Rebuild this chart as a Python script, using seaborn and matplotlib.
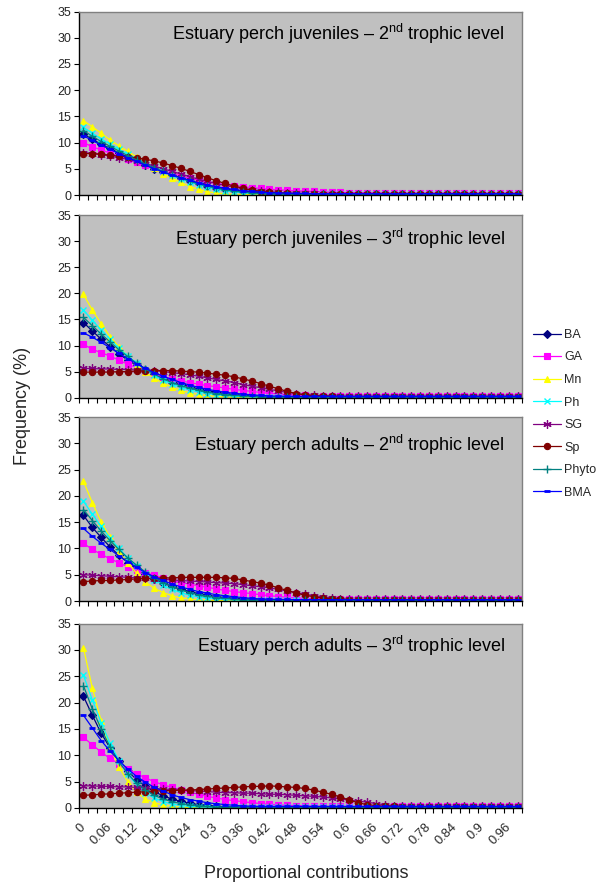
import matplotlib
matplotlib.use("Agg")
import matplotlib.pyplot as plt
from matplotlib.ticker import MultipleLocator, FixedLocator
import pandas as pd
import seaborn as sns

# Proportional contribution classes (x categories)
proportions = [
    0.00, 0.02, 0.04, 0.06, 0.08, 0.10, 0.12, 0.14, 0.16, 0.18,
    0.20, 0.22, 0.24, 0.26, 0.28, 0.30, 0.32, 0.34, 0.36, 0.38,
    0.40, 0.42, 0.44, 0.46, 0.48, 0.50, 0.52, 0.54, 0.56, 0.58,
    0.60, 0.62, 0.64, 0.66, 0.68, 0.70, 0.72, 0.74, 0.76, 0.78,
    0.80, 0.82, 0.84, 0.86, 0.88, 0.90, 0.92, 0.94, 0.96, 0.98,
]
tick_values = [0.00, 0.06, 0.12, 0.18, 0.24, 0.30, 0.36, 0.42, 0.48,
               0.54, 0.60, 0.66, 0.72, 0.78, 0.84, 0.90, 0.96]
tick_labels = ["0", "0.06", "0.12", "0.18", "0.24", "0.3", "0.36", "0.42", "0.48",
               "0.54", "0.6", "0.66", "0.72", "0.78", "0.84", "0.9", "0.96"]

sources = ["BA", "GA", "Mn", "Ph", "SG", "Sp", "Phyto", "BMA"]

# Frequency (%) of each source's proportional contribution
juveniles_2nd = {
    "BA": [11.7, 10.6, 9.7, 8.9, 8.0, 7.2, 6.4, 5.7, 5.0, 4.4,
           3.8, 3.2, 2.7, 2.2, 1.8, 1.4, 1.1, 0.9, 0.7, 0.55,
           0.45, 0.35, 0.3, 0.25, 0.25, 0.2, 0.2, 0.2, 0.2, 0.2,
           0.2, 0.2, 0.2, 0.2, 0.2, 0.2, 0.2, 0.2, 0.2, 0.2,
           0.2, 0.2, 0.2, 0.2, 0.2, 0.2, 0.2, 0.2, 0.2, 0.2],
    "GA": [10.0, 9.2, 8.6, 8.0, 7.4, 6.8, 6.2, 5.7, 5.1, 4.6,
           4.1, 3.6, 3.2, 2.8, 2.5, 2.2, 2.0, 1.8, 1.6, 1.4,
           1.25, 1.1, 1.0, 0.9, 0.8, 0.75, 0.7, 0.6, 0.55, 0.5,
           0.45, 0.4, 0.4, 0.35, 0.35, 0.3, 0.3, 0.3, 0.3, 0.3,
           0.3, 0.3, 0.3, 0.3, 0.3, 0.3, 0.3, 0.3, 0.3, 0.3],
    "Mn": [14.2, 13.0, 11.8, 10.5, 9.4, 8.3, 7.3, 6.2, 5.1, 4.1,
           3.2, 2.4, 1.6, 1.1, 0.6, 0.4, 0.2, 0.1, 0.1, 0.05,
           0.05, 0.05, 0.05, 0.05, 0.05, 0.05, 0.05, 0.05, 0.05, 0.05,
           0.05, 0.05, 0.05, 0.05, 0.05, 0.05, 0.05, 0.05, 0.05, 0.05,
           0.05, 0.05, 0.05, 0.05, 0.05, 0.05, 0.05, 0.05, 0.05, 0.05],
    "Ph": [12.9, 11.8, 10.7, 9.7, 8.7, 7.8, 6.9, 6.1, 5.3, 4.5,
           3.8, 3.1, 2.5, 2.0, 1.5, 1.1, 0.8, 0.6, 0.4, 0.3,
           0.2, 0.15, 0.15, 0.1, 0.1, 0.1, 0.1, 0.1, 0.1, 0.1,
           0.1, 0.1, 0.1, 0.1, 0.1, 0.1, 0.1, 0.1, 0.1, 0.1,
           0.1, 0.1, 0.1, 0.1, 0.1, 0.1, 0.1, 0.1, 0.1, 0.1],
    "SG": [8.1, 7.9, 7.7, 7.4, 7.1, 6.8, 6.4, 6.0, 5.5, 5.0,
           4.5, 4.0, 3.5, 3.0, 2.6, 2.2, 1.8, 1.5, 1.2, 1.0,
           0.8, 0.65, 0.5, 0.4, 0.35, 0.3, 0.3, 0.25, 0.25, 0.25,
           0.25, 0.25, 0.25, 0.25, 0.25, 0.25, 0.25, 0.25, 0.25, 0.25,
           0.25, 0.25, 0.25, 0.25, 0.25, 0.25, 0.25, 0.25, 0.25, 0.25],
    "Sp": [7.9, 7.9, 7.8, 7.6, 7.4, 7.3, 7.1, 6.8, 6.5, 6.1,
           5.6, 5.1, 4.5, 3.9, 3.3, 2.7, 2.2, 1.7, 1.3, 0.9,
           0.65, 0.5, 0.4, 0.3, 0.25, 0.2, 0.2, 0.2, 0.2, 0.2,
           0.2, 0.2, 0.2, 0.2, 0.2, 0.2, 0.2, 0.2, 0.2, 0.2,
           0.2, 0.2, 0.2, 0.2, 0.2, 0.2, 0.2, 0.2, 0.2, 0.2],
    "Phyto": [12.3, 11.2, 10.2, 9.3, 8.4, 7.5, 6.7, 5.9, 5.2, 4.5,
              3.8, 3.2, 2.6, 2.1, 1.7, 1.3, 1.0, 0.75, 0.55, 0.4,
              0.3, 0.25, 0.2, 0.2, 0.15, 0.15, 0.15, 0.15, 0.15, 0.15,
              0.15, 0.15, 0.15, 0.15, 0.15, 0.15, 0.15, 0.15, 0.15, 0.15,
              0.15, 0.15, 0.15, 0.15, 0.15, 0.15, 0.15, 0.15, 0.15, 0.15],
    "BMA": [11.3, 10.4, 9.5, 8.7, 7.9, 7.1, 6.4, 5.7, 5.0, 4.4,
            3.8, 3.3, 2.8, 2.3, 1.9, 1.6, 1.3, 1.05, 0.85, 0.7,
            0.55, 0.45, 0.4, 0.35, 0.3, 0.3, 0.25, 0.25, 0.25, 0.25,
            0.25, 0.25, 0.25, 0.25, 0.25, 0.25, 0.25, 0.25, 0.25, 0.25,
            0.25, 0.25, 0.25, 0.25, 0.25, 0.25, 0.25, 0.25, 0.25, 0.25],
}

juveniles_3rd = {
    "BA": [14.4, 12.8, 11.2, 9.8, 8.4, 7.2, 6.2, 5.3, 4.5, 3.8,
           3.1, 2.6, 2.1, 1.7, 1.35, 1.05, 0.8, 0.6, 0.45, 0.35,
           0.25, 0.2, 0.2, 0.2, 0.2, 0.2, 0.2, 0.2, 0.2, 0.2,
           0.2, 0.2, 0.2, 0.2, 0.2, 0.2, 0.2, 0.2, 0.2, 0.2,
           0.2, 0.2, 0.2, 0.2, 0.2, 0.2, 0.2, 0.2, 0.2, 0.2],
    "GA": [10.2, 9.3, 8.6, 8.0, 7.2, 6.4, 5.8, 5.2, 4.5, 4.0,
           3.6, 3.2, 2.9, 2.6, 2.3, 2.1, 1.85, 1.6, 1.4, 1.2,
           1.0, 0.85, 0.7, 0.6, 0.5, 0.45, 0.4, 0.35, 0.35, 0.3,
           0.3, 0.3, 0.3, 0.3, 0.3, 0.3, 0.3, 0.3, 0.3, 0.3,
           0.3, 0.3, 0.3, 0.3, 0.3, 0.3, 0.3, 0.3, 0.3, 0.3],
    "Mn": [19.8, 16.8, 14.2, 11.7, 9.8, 7.9, 6.3, 4.9, 3.7, 2.8,
           2.0, 1.4, 0.9, 0.6, 0.4, 0.25, 0.15, 0.1, 0.1, 0.05,
           0.05, 0.05, 0.05, 0.05, 0.05, 0.05, 0.05, 0.05, 0.05, 0.05,
           0.05, 0.05, 0.05, 0.05, 0.05, 0.05, 0.05, 0.05, 0.05, 0.05,
           0.05, 0.05, 0.05, 0.05, 0.05, 0.05, 0.05, 0.05, 0.05, 0.05],
    "Ph": [16.8, 14.8, 13.0, 11.2, 9.5, 8.0, 6.6, 5.4, 4.3, 3.4,
           2.6, 2.0, 1.5, 1.1, 0.8, 0.55, 0.4, 0.3, 0.2, 0.15,
           0.1, 0.1, 0.1, 0.1, 0.1, 0.1, 0.1, 0.1, 0.1, 0.1,
           0.1, 0.1, 0.1, 0.1, 0.1, 0.1, 0.1, 0.1, 0.1, 0.1,
           0.1, 0.1, 0.1, 0.1, 0.1, 0.1, 0.1, 0.1, 0.1, 0.1],
    "SG": [5.6, 5.6, 5.5, 5.5, 5.4, 5.4, 5.3, 5.3, 5.2, 5.0,
           4.8, 4.6, 4.4, 4.1, 3.8, 3.5, 3.2, 2.9, 2.5, 2.2,
           1.9, 1.6, 1.3, 1.0, 0.8, 0.6, 0.5, 0.4, 0.35, 0.3,
           0.3, 0.3, 0.3, 0.3, 0.3, 0.3, 0.3, 0.3, 0.3, 0.3,
           0.3, 0.3, 0.3, 0.3, 0.3, 0.3, 0.3, 0.3, 0.3, 0.3],
    "Sp": [4.9, 4.9, 4.9, 4.9, 5.0, 5.0, 5.1, 5.1, 5.2, 5.2,
           5.2, 5.1, 5.0, 4.9, 4.7, 4.5, 4.3, 4.0, 3.6, 3.2,
           2.7, 2.2, 1.7, 1.2, 0.8, 0.55, 0.4, 0.3, 0.25, 0.2,
           0.2, 0.2, 0.2, 0.2, 0.2, 0.2, 0.2, 0.2, 0.2, 0.2,
           0.2, 0.2, 0.2, 0.2, 0.2, 0.2, 0.2, 0.2, 0.2, 0.2],
    "Phyto": [15.4, 13.8, 12.2, 10.7, 9.2, 7.9, 6.6, 5.5, 4.5, 3.6,
              2.9, 2.3, 1.8, 1.4, 1.05, 0.8, 0.6, 0.45, 0.35, 0.25,
              0.2, 0.15, 0.15, 0.15, 0.15, 0.15, 0.15, 0.15, 0.15, 0.15,
              0.15, 0.15, 0.15, 0.15, 0.15, 0.15, 0.15, 0.15, 0.15, 0.15,
              0.15, 0.15, 0.15, 0.15, 0.15, 0.15, 0.15, 0.15, 0.15, 0.15],
    "BMA": [12.4, 11.6, 10.6, 9.6, 8.5, 7.5, 6.5, 5.6, 4.8, 4.1,
            3.5, 2.9, 2.4, 2.0, 1.6, 1.3, 1.05, 0.85, 0.7, 0.55,
            0.45, 0.35, 0.3, 0.3, 0.25, 0.25, 0.25, 0.25, 0.25, 0.25,
            0.25, 0.25, 0.25, 0.25, 0.25, 0.25, 0.25, 0.25, 0.25, 0.25,
            0.25, 0.25, 0.25, 0.25, 0.25, 0.25, 0.25, 0.25, 0.25, 0.25],
}

adults_2nd = {
    "BA": [16.3, 14.0, 12.1, 10.3, 8.7, 7.3, 6.1, 5.1, 4.2, 3.4,
           2.8, 2.2, 1.8, 1.4, 1.1, 0.85, 0.65, 0.5, 0.4, 0.3,
           0.25, 0.2, 0.2, 0.2, 0.2, 0.2, 0.2, 0.2, 0.2, 0.2,
           0.2, 0.2, 0.2, 0.2, 0.2, 0.2, 0.2, 0.2, 0.2, 0.2,
           0.2, 0.2, 0.2, 0.2, 0.2, 0.2, 0.2, 0.2, 0.2, 0.2],
    "GA": [11.0, 9.8, 8.9, 8.0, 7.3, 6.5, 5.9, 5.4, 4.9, 4.4,
           3.9, 3.5, 3.2, 2.9, 2.6, 2.3, 2.0, 1.8, 1.6, 1.4,
           1.2, 1.0, 0.85, 0.7, 0.6, 0.5, 0.45, 0.4, 0.35, 0.35,
           0.3, 0.3, 0.3, 0.3, 0.3, 0.3, 0.3, 0.3, 0.3, 0.3,
           0.3, 0.3, 0.3, 0.3, 0.3, 0.3, 0.3, 0.3, 0.3, 0.3],
    "Mn": [22.8, 18.7, 15.1, 12.1, 9.4, 7.2, 5.3, 3.6, 2.4, 1.6,
           1.0, 0.6, 0.4, 0.25, 0.15, 0.1, 0.05, 0.05, 0.05, 0.05,
           0.05, 0.05, 0.05, 0.05, 0.05, 0.05, 0.05, 0.05, 0.05, 0.05,
           0.05, 0.05, 0.05, 0.05, 0.05, 0.05, 0.05, 0.05, 0.05, 0.05,
           0.05, 0.05, 0.05, 0.05, 0.05, 0.05, 0.05, 0.05, 0.05, 0.05],
    "Ph": [19.0, 16.5, 14.2, 12.0, 10.0, 8.2, 6.6, 5.2, 4.0, 3.0,
           2.2, 1.6, 1.1, 0.8, 0.55, 0.4, 0.3, 0.2, 0.15, 0.1,
           0.1, 0.1, 0.1, 0.1, 0.1, 0.1, 0.1, 0.1, 0.1, 0.1,
           0.1, 0.1, 0.1, 0.1, 0.1, 0.1, 0.1, 0.1, 0.1, 0.1,
           0.1, 0.1, 0.1, 0.1, 0.1, 0.1, 0.1, 0.1, 0.1, 0.1],
    "SG": [5.0, 4.9, 4.8, 4.7, 4.6, 4.5, 4.4, 4.3, 4.2, 4.1,
           4.0, 3.9, 3.8, 3.7, 3.6, 3.5, 3.4, 3.3, 3.1, 2.9,
           2.7, 2.5, 2.2, 1.9, 1.6, 1.3, 1.0, 0.8, 0.6, 0.45,
           0.35, 0.3, 0.3, 0.3, 0.3, 0.3, 0.3, 0.3, 0.3, 0.3,
           0.3, 0.3, 0.3, 0.3, 0.3, 0.3, 0.3, 0.3, 0.3, 0.3],
    "Sp": [3.7, 3.8, 3.9, 3.9, 4.0, 4.1, 4.2, 4.3, 4.3, 4.4,
           4.4, 4.5, 4.5, 4.5, 4.5, 4.5, 4.4, 4.3, 4.0, 3.7,
           3.4, 3.0, 2.5, 2.0, 1.5, 1.1, 0.8, 0.55, 0.4, 0.3,
           0.25, 0.25, 0.25, 0.25, 0.25, 0.25, 0.25, 0.25, 0.25, 0.25,
           0.25, 0.25, 0.25, 0.25, 0.25, 0.25, 0.25, 0.25, 0.25, 0.25],
    "Phyto": [17.4, 15.3, 13.3, 11.5, 9.8, 8.2, 6.8, 5.5, 4.4, 3.5,
              2.7, 2.1, 1.6, 1.2, 0.9, 0.65, 0.5, 0.35, 0.25, 0.2,
              0.15, 0.15, 0.15, 0.15, 0.15, 0.15, 0.15, 0.15, 0.15, 0.15,
              0.15, 0.15, 0.15, 0.15, 0.15, 0.15, 0.15, 0.15, 0.15, 0.15,
              0.15, 0.15, 0.15, 0.15, 0.15, 0.15, 0.15, 0.15, 0.15, 0.15],
    "BMA": [13.8, 12.3, 11.0, 9.8, 8.6, 7.5, 6.4, 5.4, 4.6, 3.9,
            3.2, 2.7, 2.2, 1.8, 1.5, 1.2, 1.0, 0.8, 0.65, 0.5,
            0.4, 0.35, 0.3, 0.3, 0.25, 0.25, 0.25, 0.25, 0.25, 0.25,
            0.25, 0.25, 0.25, 0.25, 0.25, 0.25, 0.25, 0.25, 0.25, 0.25,
            0.25, 0.25, 0.25, 0.25, 0.25, 0.25, 0.25, 0.25, 0.25, 0.25],
}

adults_3rd = {
    "BA": [21.2, 17.6, 14.2, 11.4, 9.0, 7.0, 5.4, 4.1, 3.1, 2.3,
           1.7, 1.25, 0.9, 0.65, 0.5, 0.35, 0.25, 0.2, 0.2, 0.2,
           0.2, 0.2, 0.2, 0.2, 0.2, 0.2, 0.2, 0.2, 0.2, 0.2,
           0.2, 0.2, 0.2, 0.2, 0.2, 0.2, 0.2, 0.2, 0.2, 0.2,
           0.2, 0.2, 0.2, 0.2, 0.2, 0.2, 0.2, 0.2, 0.2, 0.2],
    "GA": [13.4, 12.0, 10.6, 9.4, 8.4, 7.4, 6.5, 5.7, 5.0, 4.4,
           3.9, 3.4, 3.0, 2.6, 2.2, 1.9, 1.6, 1.4, 1.2, 1.0,
           0.85, 0.7, 0.6, 0.5, 0.45, 0.4, 0.35, 0.3, 0.3, 0.3,
           0.3, 0.3, 0.3, 0.3, 0.3, 0.3, 0.3, 0.3, 0.3, 0.3,
           0.3, 0.3, 0.3, 0.3, 0.3, 0.3, 0.3, 0.3, 0.3, 0.3],
    "Mn": [30.4, 22.8, 16.5, 11.5, 7.8, 5.0, 3.0, 1.7, 1.0, 0.55,
           0.3, 0.15, 0.1, 0.05, 0.05, 0.05, 0.05, 0.05, 0.05, 0.05,
           0.05, 0.05, 0.05, 0.05, 0.05, 0.05, 0.05, 0.05, 0.05, 0.05,
           0.05, 0.05, 0.05, 0.05, 0.05, 0.05, 0.05, 0.05, 0.05, 0.05,
           0.05, 0.05, 0.05, 0.05, 0.05, 0.05, 0.05, 0.05, 0.05, 0.05],
    "Ph": [25.2, 20.5, 16.2, 12.3, 9.0, 6.4, 4.4, 2.9, 1.9, 1.2,
           0.75, 0.5, 0.3, 0.2, 0.15, 0.1, 0.1, 0.1, 0.1, 0.1,
           0.1, 0.1, 0.1, 0.1, 0.1, 0.1, 0.1, 0.1, 0.1, 0.1,
           0.1, 0.1, 0.1, 0.1, 0.1, 0.1, 0.1, 0.1, 0.1, 0.1,
           0.1, 0.1, 0.1, 0.1, 0.1, 0.1, 0.1, 0.1, 0.1, 0.1],
    "SG": [4.2, 4.2, 4.1, 4.1, 4.0, 4.0, 3.9, 3.8, 3.7, 3.6,
           3.5, 3.4, 3.3, 3.2, 3.1, 3.0, 2.9, 2.9, 2.8, 2.8,
           2.7, 2.6, 2.6, 2.5, 2.4, 2.3, 2.2, 2.1, 1.9, 1.7,
           1.5, 1.3, 1.1, 0.85, 0.6, 0.45, 0.35, 0.3, 0.3, 0.3,
           0.3, 0.3, 0.3, 0.3, 0.3, 0.3, 0.3, 0.3, 0.3, 0.3],
    "Sp": [2.4, 2.5, 2.6, 2.7, 2.8, 2.9, 3.0, 3.1, 3.2, 3.3,
           3.3, 3.4, 3.4, 3.5, 3.6, 3.7, 3.8, 3.9, 4.0, 4.1,
           4.1, 4.2, 4.1, 4.0, 3.9, 3.7, 3.4, 3.0, 2.6, 2.1,
           1.5, 1.0, 0.65, 0.45, 0.35, 0.3, 0.25, 0.25, 0.25, 0.25,
           0.25, 0.25, 0.25, 0.25, 0.25, 0.25, 0.25, 0.25, 0.25, 0.25],
    "Phyto": [23.2, 18.8, 15.0, 11.6, 8.8, 6.5, 4.7, 3.4, 2.4, 1.7,
              1.2, 0.85, 0.6, 0.45, 0.3, 0.2, 0.15, 0.15, 0.15, 0.15,
              0.15, 0.15, 0.15, 0.15, 0.15, 0.15, 0.15, 0.15, 0.15, 0.15,
              0.15, 0.15, 0.15, 0.15, 0.15, 0.15, 0.15, 0.15, 0.15, 0.15,
              0.15, 0.15, 0.15, 0.15, 0.15, 0.15, 0.15, 0.15, 0.15, 0.15],
    "BMA": [17.6, 15.2, 12.8, 10.8, 9.0, 7.4, 6.0, 4.9, 3.9, 3.2,
            2.5, 2.0, 1.6, 1.3, 1.0, 0.8, 0.65, 0.5, 0.4, 0.35,
            0.3, 0.3, 0.3, 0.3, 0.3, 0.3, 0.3, 0.3, 0.3, 0.3,
            0.3, 0.3, 0.3, 0.3, 0.3, 0.3, 0.3, 0.3, 0.3, 0.3,
            0.3, 0.3, 0.3, 0.3, 0.3, 0.3, 0.3, 0.3, 0.3, 0.3],
}

panel_titles = [
    r"Estuary perch juveniles – 2$^{\mathrm{nd}}$ trophic level",
    r"Estuary perch juveniles – 3$^{\mathrm{rd}}$ trophic level",
    r"Estuary perch adults – 2$^{\mathrm{nd}}$ trophic level",
    r"Estuary perch adults – 3$^{\mathrm{rd}}$ trophic level",
]
panel_data = [juveniles_2nd, juveniles_3rd, adults_2nd, adults_3rd]

# Series styling (Excel-like)
palette = {"BA": "#000080", "GA": "#FF00FF", "Mn": "#FFFF00", "Ph": "#00FFFF",
           "SG": "#800080", "Sp": "#800000", "Phyto": "#008080", "BMA": "#0000FF"}
markers = {"BA": "D", "GA": "s", "Mn": "^", "Ph": "x",
           "SG": (6, 2, 0), "Sp": "o", "Phyto": "+", "BMA": "_"}
marker_sizes = {"BA": 4.0, "GA": 4.2, "Mn": 5.0, "Ph": 5.0,
                "SG": 6.0, "Sp": 4.5, "Phyto": 5.5, "BMA": 5.0}
marker_widths = {"BA": 0.8, "GA": 0.8, "Mn": 0.8, "Ph": 1.0,
                 "SG": 0.9, "Sp": 0.8, "Phyto": 1.0, "BMA": 2.0}

sns.set_style("white")
plt.rcParams["font.family"] = ["Liberation Sans", "DejaVu Sans"]
plt.rcParams["mathtext.fontset"] = "custom"
plt.rcParams["mathtext.rm"] = "Liberation Sans"
plt.rcParams["mathtext.it"] = "Liberation Sans:italic"
plt.rcParams["mathtext.bf"] = "Liberation Sans:bold"

W, H = 600, 886
fig = plt.figure(figsize=(W / 100, H / 100), dpi=100)
fig.patch.set_facecolor("white")

# panel extents in pixels (top, bottom)
left_px, right_px = 79, 522
panel_px = [(11.5, 195), (215, 397.7), (417, 601), (623.5, 808)]
title_pos = [(0.210, 0.88), (0.217, 0.87), (0.260, 0.85), (0.266, 0.877)]

axes = []
for i, (data, title) in enumerate(zip(panel_data, panel_titles)):
    top, bottom = panel_px[i]
    ax = fig.add_axes([left_px / W, 1 - bottom / H,
                       (right_px - left_px) / W, (bottom - top) / H])
    ax.set_facecolor("#C0C0C0")

    rows = []
    for src in sources:
        vals = data[src]
        assert len(vals) == len(proportions)
        for p, v in zip(proportions, vals):
            rows.append({"prop": p, "freq": v, "source": src})
    df = pd.DataFrame(rows)

    sns.lineplot(data=df, x="prop", y="freq", hue="source",
                 hue_order=sources, palette=palette, marker="o",
                 linewidth=0.9, errorbar=None, legend=False, ax=ax)
    # per-series marker shapes (filled and line-art markers mixed)
    for line, src in zip(ax.lines, sources):
        line.set_marker(markers[src])
        line.set_markersize(marker_sizes[src])
        line.set_markeredgewidth(marker_widths[src])
        line.set_markeredgecolor(palette[src])
        line.set_markerfacecolor(palette[src])
        line.set_label(src)

    ax.set_xlim(-0.01, 0.99)
    ax.set_ylim(0, 35)
    ax.set_yticks([0, 5, 10, 15, 20, 25, 30, 35])
    ax.set_xlabel("")
    ax.set_ylabel("")
    ax.xaxis.set_major_locator(FixedLocator(tick_values))
    ax.xaxis.set_minor_locator(MultipleLocator(0.02, offset=-0.01))
    ax.tick_params(axis="x", which="major", length=0, pad=12.5)
    ax.tick_params(axis="x", which="minor", length=3.5, width=0.8,
                   direction="out", color="black", bottom=True)
    ax.tick_params(axis="y", which="major", length=3.5, width=0.8,
                   direction="out", color="black", left=True,
                   labelsize=9, pad=2)
    if i == len(panel_data) - 1:
        ax.set_xticklabels(tick_labels, rotation=45, ha="right", va="center",
                           rotation_mode="anchor", fontsize=9.3)
    else:
        ax.set_xticklabels([])

    for side in ["top", "right"]:
        ax.spines[side].set_color("#808080")
        ax.spines[side].set_linewidth(1.0)
    for side in ["left", "bottom"]:
        ax.spines[side].set_color("black")
        ax.spines[side].set_linewidth(1.0)

    tx, ty = title_pos[i]
    ax.text(tx, ty, title, transform=ax.transAxes, ha="left", va="center",
            fontsize=13, color="black")
    axes.append(ax)

fig.legend(handles=axes[0].lines[:len(sources)], labels=sources,
           loc="upper left", bbox_to_anchor=(533 / W, 1 - 329 / H),
           frameon=False, fontsize=9, labelspacing=0.84, handlelength=2.2,
           handletextpad=0.3, borderaxespad=0, borderpad=0, numpoints=1)

fig.text(23 / W, 1 - 406 / H, "Frequency (%)", rotation=90,
         ha="center", va="center", fontsize=13)
fig.text(306.5 / W, 1 - 873.5 / H, "Proportional contributions",
         ha="center", va="center", fontsize=13)

fig.savefig("out.png", dpi=100, facecolor="white")
